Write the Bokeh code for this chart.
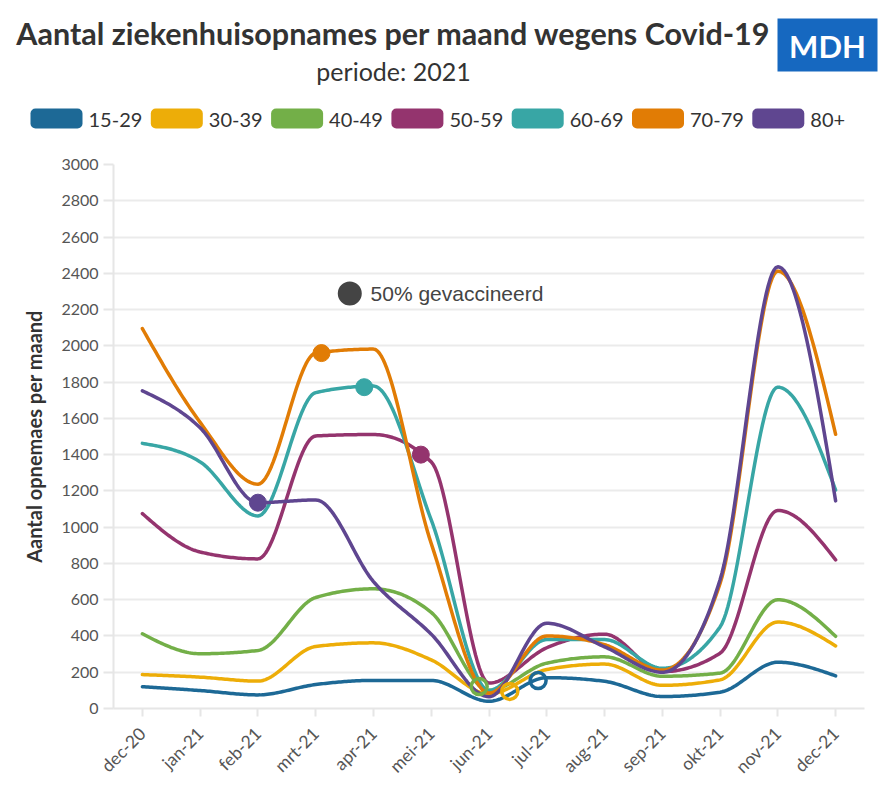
import numpy as np
from bokeh.plotting import figure
from bokeh.layouts import column
from bokeh.models import Range1d, FixedTicker
from bokeh.core.properties import value
from bokeh.embed import file_html
from bokeh.resources import INLINE

# ---------------- data ----------------
months = ["dec-20", "jan-21", "feb-21", "mrt-21", "apr-21", "mei-21", "jun-21",
          "jul-21", "aug-21", "sep-21", "okt-21", "nov-21", "dec-21"]

groups = ["15-29", "30-39", "40-49", "50-59", "60-69", "70-79", "80+"]
colors = ["#1D6996", "#EDAD08", "#73AF48", "#94346E", "#38A6A5", "#E17C05", "#5F4690"]

v15_29 = [120, 99, 75, 132, 155, 155, 40, 170, 150, 66, 90, 255, 180]
v30_39 = [187, 173, 151, 342, 362, 268, 80, 215, 245, 128, 158, 477, 345]
v40_49 = [412, 302, 320, 612, 660, 530, 100, 250, 285, 178, 195, 600, 398]
v50_59 = [1075, 863, 825, 1503, 1511, 1360, 140, 335, 410, 203, 305, 1092, 820]
v60_69 = [1462, 1360, 1062, 1742, 1778, 1040, 100, 380, 380, 222, 450, 1772, 1205]
v70_79 = [2095, 1578, 1237, 1960, 1982, 910, 85, 400, 352, 212, 690, 2412, 1512]
v80p = [1752, 1548, 1135, 1150, 700, 410, 65, 470, 340, 200, 710, 2436, 1145]
series = [v15_29, v30_39, v40_49, v50_59, v60_69, v70_79, v80p]

# moment 50% vaccinated (position in months since dec-20, number of admissions)
vacc_x = [6.85, 6.36, 5.83, 4.82, 3.84, 3.10, 2.0]
vacc_y = [154, 94, 121, 1400, 1772, 1960, 1135]
vacc_hollow = [True, True, True, False, False, False, False]

yticks = list(range(0, 3001, 200))

title_text = "Aantal ziekenhuisopnames per maand wegens Covid-19"
subtitle_text = "periode: 2021"
ylabel_text = "Aantal opnemaes per maand"
note_text = "50% gevaccineerd"


def monotone_curve(xs, ys, n=30):
    """Monotone cubic (d3 curveMonotoneX) sampling for drawing a smooth line."""
    xs = np.asarray(xs, float)
    ys = np.asarray(ys, float)
    h = np.diff(xs)
    s = np.diff(ys) / h
    m = len(xs)
    t = np.zeros(m)
    for i in range(1, m - 1):
        s0, s1, h0, h1 = s[i - 1], s[i], h[i - 1], h[i]
        p_ = (s0 * h1 + s1 * h0) / (h0 + h1)
        t[i] = (np.sign(s0) + np.sign(s1)) * min(abs(s0), abs(s1), 0.5 * abs(p_))
    t[0] = (3 * s[0] - t[1]) / 2
    t[-1] = (3 * s[-1] - t[-2]) / 2
    ox, oy = [], []
    u = np.linspace(0, 1, n, endpoint=False)
    for i in range(m - 1):
        x0, y0, y1, hh = xs[i], ys[i], ys[i + 1], h[i]
        h00 = 2 * u**3 - 3 * u**2 + 1
        h10 = u**3 - 2 * u**2 + u
        h01 = -2 * u**3 + 3 * u**2
        h11 = u**3 - u**2
        ox.extend(x0 + u * hh)
        oy.extend(h00 * y0 + h10 * hh * t[i] + h01 * y1 + h11 * hh * t[i + 1])
    ox.append(xs[-1])
    oy.append(ys[-1])
    return ox, oy


FONT = "Lato"
DARK = "#333333"
GREY = "#555555"
LIGHT = "#e6e6e6"

# ---------------- header (title, subtitle, logo, legend) ----------------
W = 883
hdr = figure(width=W, height=140, x_range=Range1d(0, W), y_range=Range1d(140, 0),
             toolbar_location=None, output_backend="svg", min_border=0,
             x_axis_location=None, y_axis_location=None, outline_line_color=None)
hdr.grid.visible = False

hdr.text(x=[393], y=[32], text=[title_text], text_font=value(FONT), text_font_style="bold",
         text_font_size="30.5px", text_color=DARK, text_align="center", text_baseline="middle")
hdr.text(x=[393], y=[70], text=[subtitle_text], text_font=value(FONT),
         text_font_size="25px", text_color=DARK, text_align="center", text_baseline="middle")

hdr.quad(left=[777], right=[877], top=[18], bottom=[71], fill_color="#1668c0", line_color=None)
hdr.text(x=[827], y=[45], text=["MDH"], text_font=value(FONT), text_font_style="bold",
         text_font_size="31px", text_color="white", text_align="center", text_baseline="middle")

leg_x = [30 + 120.3 * i for i in range(len(groups))]
hdr.quad(left=leg_x, right=[x + 52 for x in leg_x], top=[108] * len(groups),
         bottom=[128] * len(groups), fill_color=colors, line_color=None, border_radius=5)
hdr.text(x=[x + 58 for x in leg_x], y=[119] * len(groups), text=groups, text_font=value(FONT),
         text_font_size="20px", text_color=DARK, text_align="left", text_baseline="middle")

# ---------------- main chart ----------------
p = figure(width=W, height=651, x_range=Range1d(-0.5, 12.5), y_range=Range1d(0, 3000),
           toolbar_location=None, output_backend="svg",
           min_border_left=113, min_border_right=19, min_border_top=24, min_border_bottom=83)
p.outline_line_color = None
p.xgrid.visible = False
p.ygrid.grid_line_color = "#ebebeb"
p.ygrid.grid_line_width = 2

p.xaxis.ticker = FixedTicker(ticks=list(range(len(months))))
p.xaxis.major_label_overrides = {i: m for i, m in enumerate(months)}
p.xaxis.major_label_orientation = np.pi / 4
p.xaxis.minor_tick_line_color = None
p.xaxis.major_tick_in = 0
p.xaxis.major_tick_out = 8
p.xaxis.major_tick_line_color = LIGHT
p.xaxis.major_tick_line_width = 2
p.xaxis.axis_line_color = LIGHT
p.xaxis.axis_line_width = 2
p.xaxis.major_label_text_font = FONT
p.xaxis.major_label_text_font_size = "17.5px"
p.xaxis.major_label_text_color = GREY
p.xaxis.major_label_standoff = 14

p.yaxis.ticker = FixedTicker(ticks=yticks)
p.yaxis.minor_tick_line_color = None
p.yaxis.major_tick_in = 0
p.yaxis.major_tick_out = 10
p.yaxis.major_tick_line_color = LIGHT
p.yaxis.major_tick_line_width = 2
p.yaxis.axis_line_color = LIGHT
p.yaxis.axis_line_width = 2
p.yaxis.major_label_text_font = FONT
p.yaxis.major_label_text_font_size = "16px"
p.yaxis.major_label_text_color = GREY
p.yaxis.major_label_standoff = 5
p.yaxis.axis_label = ylabel_text
p.yaxis.axis_label_text_font = FONT
p.yaxis.axis_label_text_font_style = "bold"
p.yaxis.axis_label_text_font_size = "20px"
p.yaxis.axis_label_text_color = DARK
p.yaxis.axis_label_standoff = 12

xs_idx = list(range(len(months)))
for vals, col in zip(series, colors):
    cx, cy = monotone_curve(xs_idx, vals)
    p.line(cx, cy, line_color=col, line_width=3.5, line_cap="round", line_join="round")

for x, y, hollow, col in zip(vacc_x, vacc_y, vacc_hollow, colors):
    if hollow:
        p.scatter([x], [y], size=16, marker="circle", fill_color=None,
                  line_color=col, line_width=3.5)
    else:
        p.scatter([x], [y], size=17, marker="circle", fill_color=col, line_color=col)

# annotation
p.scatter([3.59], [2289], size=24, marker="circle", fill_color="#444444", line_color=None)
p.text(x=[3.95], y=[2289], text=[note_text], text_font=value("Liberation Sans"),
       text_font_size="21px", text_color="#444444", text_align="left", text_baseline="middle")

# keep the header's frame independent of the chart's frame
for fig in (hdr, p):
    try:
        fig.frame_align = False
    except Exception:
        pass

layout = column(hdr, p, spacing=0)
open("out.html", "w").write(file_html(layout, INLINE))
